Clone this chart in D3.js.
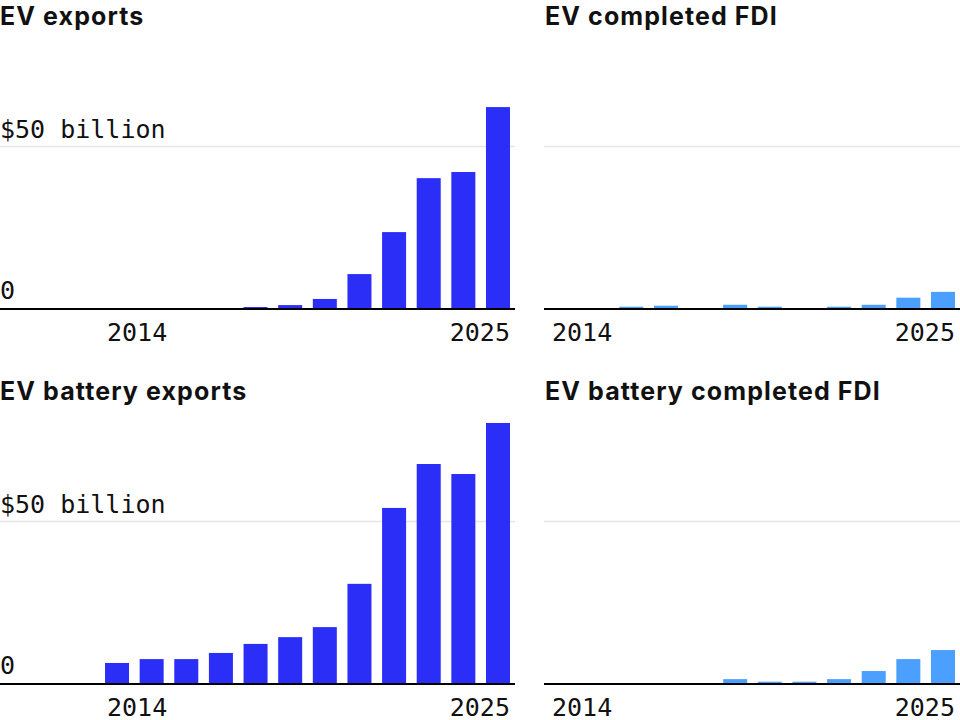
<!DOCTYPE html>
<html>
<head>
<meta charset="utf-8">
<script src="https://cdn.jsdelivr.net/npm/d3@7"></script>
<style>
  html, body { margin: 0; padding: 0; background: #fff; }
  svg { display: block; }
</style>
</head>
<body>
<svg id="chart" width="960" height="720"></svg>
<script>
const years = ["2014","2015","2016","2017","2018","2019","2020","2021","2022","2023","2024","2025"];
const evExports =          [0, 0, 0, 0, 0.3, 0.9, 2.8, 10.5, 23.5, 40.2, 42.1, 62.2];
const evFdi =              [0, 0, 0.4, 0.7, 0, 1.0, 0.4, 0, 0.4, 1.0, 3.2, 5.0];
const batteryExports =     [6.2, 7.4, 7.4, 9.3, 12.1, 14.2, 17.3, 30.7, 54.2, 67.8, 64.7, 80.5];
const batteryFdi =         [0, 0, 0, 0, 0, 1.2, 0.4, 0.4, 1.2, 3.7, 7.4, 10.2];
const titles = ["EV exports", "EV completed FDI", "EV battery exports", "EV battery completed FDI"];
const yTickValues = [0, 50];
const yTickLabels = ["0", "$50 billion"];
const xTickLabels = ["2014", "2025"];

const panels = [
  { title: titles[0], values: evExports,      col: 0, row: 0, kind: "exports" },
  { title: titles[1], values: evFdi,          col: 1, row: 0, kind: "fdi" },
  { title: titles[2], values: batteryExports, col: 0, row: 1, kind: "exports" },
  { title: titles[3], values: batteryFdi,     col: 1, row: 1, kind: "fdi" }
];

const svg = d3.select("#chart");
const colors = { exports: "#2a2ef6", fdi: "#4a9fff" };
const monoFont = "'DejaVu Sans Mono', monospace";
const titleFont = "Inter, 'Noto Sans', sans-serif";

panels.forEach(p => {
  const oy = p.row * 375;
  const leftEdge = p.col === 0 ? 0 : 544;
  const bandStart = p.col === 0 ? 99.7 : 544.7;
  const bandEnd = p.col === 0 ? 515.3 : 960.3;
  const axisEnd = p.col === 0 ? 515 : 960;

  const x = d3.scaleBand().domain(years).range([bandStart, bandEnd])
    .paddingInner(0.307).paddingOuter(0.1535);
  const y = d3.scaleLinear().domain([0, 50]).range([oy + 308, oy + 146.5]);

  const g = svg.append("g");

  // title
  g.append("text")
    .attr("x", leftEdge + (p.col === 0 ? 0 : 1))
    .attr("y", oy + 25)
    .attr("font-family", titleFont)
    .attr("font-weight", 700)
    .attr("font-size", 25)
    .attr("letter-spacing", 1.1)
    .attr("fill", "#111")
    .text(p.title);

  // gridline at 50
  g.append("line")
    .attr("x1", leftEdge).attr("x2", axisEnd)
    .attr("y1", y(50)).attr("y2", y(50))
    .attr("stroke", "#e6e6e6").attr("stroke-width", 1.5);

  // y tick labels (left column only)
  if (p.col === 0) {
    g.selectAll("text.ytick").data(yTickValues).enter().append("text")
      .attr("class", "ytick")
      .attr("x", 0)
      .attr("y", d => y(d) - 9)
      .attr("font-family", monoFont)
      .attr("font-size", 25)
      .attr("fill", "#111")
      .text((d, i) => yTickLabels[i]);
  }

  // bars
  g.selectAll("rect").data(p.values).enter().append("rect")
    .attr("x", (d, i) => x(years[i]))
    .attr("width", x.bandwidth())
    .attr("y", d => y(d))
    .attr("height", d => y(0) - y(d))
    .attr("fill", colors[p.kind]);

  // baseline
  g.append("line")
    .attr("x1", leftEdge).attr("x2", axisEnd)
    .attr("y1", y(0) + 1).attr("y2", y(0) + 1)
    .attr("stroke", "#000").attr("stroke-width", 2);

  // x tick labels: first anchored start, last anchored end
  g.append("text")
    .attr("x", x(xTickLabels[0]) + 2)
    .attr("y", y(0) + 33)
    .attr("font-family", monoFont)
    .attr("font-size", 25)
    .attr("fill", "#111")
    .attr("text-anchor", "start")
    .text(xTickLabels[0]);
  g.append("text")
    .attr("x", x(xTickLabels[1]) + x.bandwidth())
    .attr("y", y(0) + 33)
    .attr("font-family", monoFont)
    .attr("font-size", 25)
    .attr("fill", "#111")
    .attr("text-anchor", "end")
    .text(xTickLabels[1]);
});
</script>
</body>
</html>
